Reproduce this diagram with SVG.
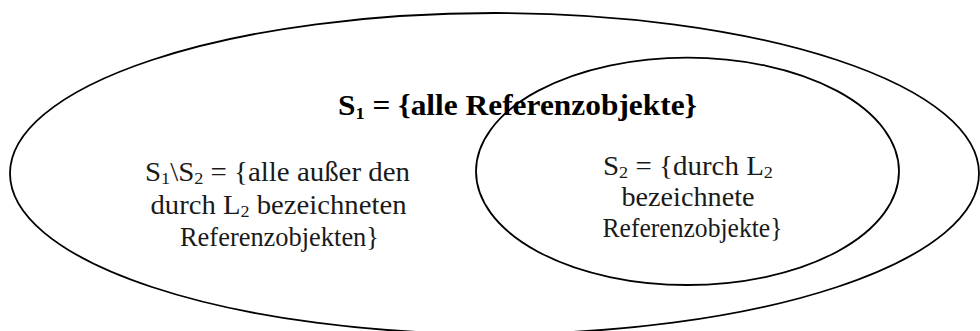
<svg xmlns="http://www.w3.org/2000/svg" width="980" height="331" viewBox="0 0 980 331">
<style>
.set{fill:none;stroke:#000;stroke-width:1.8}
.t{font-family:"Liberation Serif","Times New Roman",serif;font-size:27px;fill:#1a1a1a;text-anchor:middle}
.b{font-family:"Liberation Serif","Times New Roman",serif;font-size:29px;font-weight:bold;fill:#000;text-anchor:middle}
.sub{font-size:17px}
</style>
<rect width="980" height="331" fill="#fff"/>
<g id="S1">
<ellipse class="set" cx="494.5" cy="173.5" rx="484.5" ry="160.5"/>
<text class="b" x="517.5" y="115" textLength="359" lengthAdjust="spacingAndGlyphs">S<tspan class="sub" dy="4">1</tspan><tspan dy="-4"> = {alle Referenzobjekte}</tspan></text>
</g>
<g id="S1minusS2">
<text class="t" x="277.5" y="181" textLength="265" lengthAdjust="spacingAndGlyphs">S<tspan class="sub" dy="3">1</tspan><tspan dy="-3">\S</tspan><tspan class="sub" dy="3">2</tspan><tspan dy="-3"> = {alle außer den</tspan></text>
<text class="t" x="278.5" y="214" textLength="256" lengthAdjust="spacingAndGlyphs">durch L<tspan class="sub" dy="3">2</tspan><tspan dy="-3"> bezeichneten</tspan></text>
<text class="t" x="279.5" y="246" textLength="199" lengthAdjust="spacingAndGlyphs">Referenzobjekten}</text>
</g>
<g id="S2">
<ellipse class="set" cx="687.5" cy="171.3" rx="211.5" ry="113.7"/>
<text class="t" x="688" y="175" textLength="170" lengthAdjust="spacingAndGlyphs">S<tspan class="sub" dy="3">2</tspan><tspan dy="-3"> = {durch L</tspan><tspan class="sub" dy="3">2</tspan></text>
<text class="t" x="688" y="206" textLength="133" lengthAdjust="spacingAndGlyphs">bezeichnete</text>
<text class="t" x="692.5" y="237" textLength="180" lengthAdjust="spacingAndGlyphs">Referenzobjekte}</text>
</g>
<g id="connectors"/>
</svg>
